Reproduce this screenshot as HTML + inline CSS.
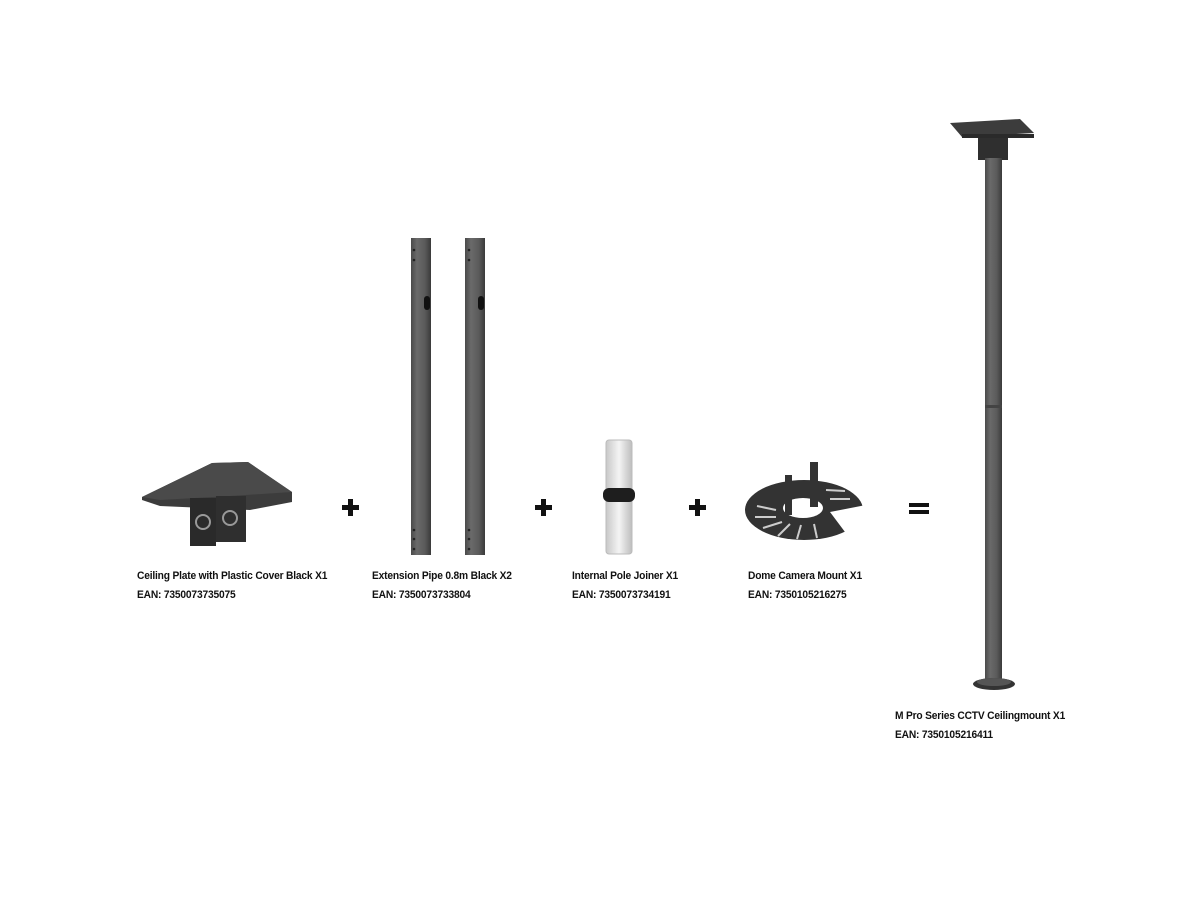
<!DOCTYPE html>
<html><head><style>
body{margin:0;background:#fff;width:1200px;height:900px;overflow:hidden;position:relative;font-family:"Liberation Sans",sans-serif}
.t{position:absolute;font-size:11px;font-weight:bold;color:#111;line-height:19px;letter-spacing:-0.2px;transform:scaleX(0.93);transform-origin:left;white-space:nowrap}
</style></head><body>
<svg width="1200" height="900" style="position:absolute;left:0;top:0">
<defs>
<linearGradient id="pg" x1="0" x2="1"><stop offset="0" stop-color="#4a4a4a"/><stop offset="0.3" stop-color="#6a6a6a"/><stop offset="0.7" stop-color="#5a5a5a"/><stop offset="1" stop-color="#3a3a3a"/></linearGradient>
<linearGradient id="wg" x1="0" x2="1"><stop offset="0" stop-color="#c8c8c8"/><stop offset="0.5" stop-color="#f4f4f4"/><stop offset="1" stop-color="#bdbdbd"/></linearGradient>
</defs>
<polygon points="142,497 212,463 248,462 292,492 292,502 250,510 160,506 142,500" fill="#3c3c3c"/>
<polygon points="142,497 212,463 248,462 292,492 230,496 160,500" fill="#4a4a4a"/>
<rect x="190" y="498" width="26" height="48" fill="#2a2a2a"/>
<rect x="216" y="496" width="30" height="46" fill="#2f2f2f"/>
<circle cx="203" cy="522" r="7" fill="none" stroke="#999" stroke-width="2"/>
<circle cx="230" cy="518" r="7" fill="none" stroke="#999" stroke-width="2"/>
<g fill="#111"><rect x="342" y="505" width="17" height="5"/><rect x="348" y="499" width="5" height="17"/>
<rect x="535" y="505" width="17" height="5"/><rect x="541" y="499" width="5" height="17"/>
<rect x="689" y="505" width="17" height="5"/><rect x="695" y="499" width="5" height="17"/>
<rect x="909" y="503" width="20" height="4"/><rect x="909" y="510" width="20" height="4"/></g>
<rect x="411" y="238" width="20" height="317" fill="url(#pg)"/>
<rect x="465" y="238" width="20" height="317" fill="url(#pg)"/>
<rect x="424" y="296" width="6" height="14" rx="3" fill="#111"/>
<rect x="478" y="296" width="6" height="14" rx="3" fill="#111"/>
<g fill="#222"><circle cx="414" cy="530" r="1.3"/><circle cx="414" cy="539" r="1.3"/><circle cx="414" cy="549" r="1.3"/><circle cx="469" cy="530" r="1.3"/><circle cx="469" cy="539" r="1.3"/><circle cx="469" cy="549" r="1.3"/>
<circle cx="414" cy="250" r="1.3"/><circle cx="414" cy="260" r="1.3"/><circle cx="469" cy="250" r="1.3"/><circle cx="469" cy="260" r="1.3"/></g>
<rect x="606" y="440" width="26" height="114" rx="3" fill="url(#wg)" stroke="#bbb"/>
<rect x="603" y="488" width="32" height="14" rx="6" fill="#1e1e1e"/>
<ellipse cx="804" cy="510" rx="59" ry="30" fill="#333"/>
<ellipse cx="803" cy="508" rx="20" ry="10" fill="#fff"/>
<path d="M830,512 L866,505 L866,530 L845,532 Z" fill="#fff"/>
<rect x="785" y="475" width="7" height="40" fill="#333"/>
<rect x="810" y="462" width="8" height="45" fill="#333"/>
<g stroke="#ccc" stroke-width="2"><line x1="757" y1="506" x2="776" y2="510"/><line x1="755" y1="517" x2="776" y2="517"/><line x1="763" y1="528" x2="782" y2="522"/><line x1="778" y1="536" x2="790" y2="524"/><line x1="797" y1="539" x2="801" y2="525"/><line x1="817" y1="538" x2="814" y2="524"/><line x1="830" y1="499" x2="850" y2="499"/><line x1="826" y1="490" x2="845" y2="491"/></g>
<polygon points="950,123 1020,119 1034,133 962,137" fill="#3c3c3c"/>
<rect x="962" y="134" width="72" height="4" fill="#2a2a2a"/>
<rect x="978" y="138" width="30" height="22" fill="#2f2f2f"/>
<rect x="985" y="158" width="17" height="524" fill="url(#pg)"/>
<rect x="985" y="405" width="17" height="3" fill="#444"/>
<ellipse cx="994" cy="684" rx="21" ry="6" fill="#333"/>
<ellipse cx="994" cy="682" rx="17" ry="4" fill="#555"/>
</svg>
<div class="t" style="left:137px;top:567px">Ceiling Plate with Plastic Cover Black X1<br>EAN: 7350073735075</div>
<div class="t" style="left:372px;top:567px">Extension Pipe 0.8m Black X2<br>EAN: 7350073733804</div>
<div class="t" style="left:572px;top:567px">Internal Pole Joiner X1<br>EAN: 7350073734191</div>
<div class="t" style="left:748px;top:567px">Dome Camera Mount X1<br>EAN: 7350105216275</div>
<div class="t" style="left:895px;top:707px">M Pro Series CCTV Ceilingmount X1<br>EAN: 7350105216411</div>
</body></html>
